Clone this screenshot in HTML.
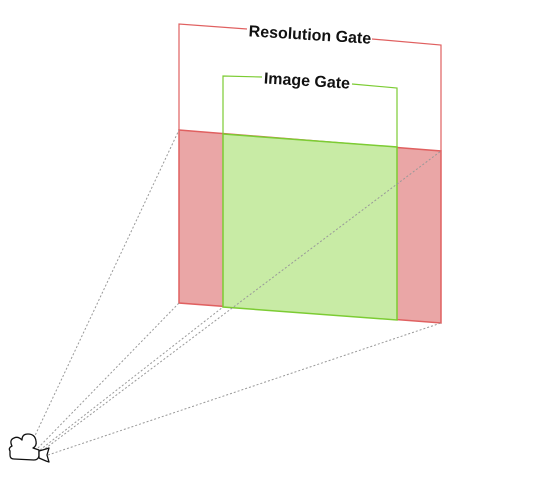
<!DOCTYPE html>
<html><head><meta charset="utf-8"><style>html,body{margin:0;padding:0;background:#fff}svg{display:block}</style></head>
<body>
<svg width="541" height="478" viewBox="0 0 541 478" xmlns="http://www.w3.org/2000/svg">
<polygon points="179,130 441,151 441,323 179,303" fill="#eaa6a6" stroke="#e06060" stroke-width="1.5"/>
<polygon points="223,134 397,147 397,320 223,307" fill="#c8eba5" stroke="#7ccc33" stroke-width="1.5"/>
<g stroke="#999" stroke-width="1" stroke-dasharray="2,2" fill="none">
<line x1="32" y1="442" x2="179" y2="130"/>
<line x1="38" y1="448" x2="179" y2="303"/>
<line x1="40" y1="450" x2="223" y2="307"/>
<line x1="48" y1="455" x2="441" y2="323"/>
<line x1="42" y1="451" x2="441" y2="151"/>
</g>
<polyline points="179,130 179,24 247,29" fill="none" stroke="#e06060" stroke-width="1.2"/>
<polyline points="372,39 441,45 441,151" fill="none" stroke="#e06060" stroke-width="1.2"/>
<polyline points="223,134 223,76 262,77" fill="none" stroke="#7ccc33" stroke-width="1.2"/>
<polyline points="352,84 397,88 397,147" fill="none" stroke="#7ccc33" stroke-width="1.2"/>
<text x="310" y="40" text-anchor="middle" transform="rotate(3.5 310 34)" font-family="Liberation Sans, sans-serif" font-weight="bold" font-size="16" fill="#111">Resolution Gate</text>
<text x="307" y="86" text-anchor="middle" transform="rotate(3.5 307 80)" font-family="Liberation Sans, sans-serif" font-weight="bold" font-size="16" fill="#111">Image Gate</text>
<g fill="#fff" stroke="#111" stroke-width="1.3" stroke-linejoin="round">
<path d="M12,446 Q9,440 14,438 Q18,436 22,440 Q22,434 28,434 Q35,434 36,441 Q37,446 33,448 L39,450 L39,456 Q38,460 34,460 L14,459 Q10,459 10,455 L10,451 Q8,448 12,446 Z"/>
<path d="M39,451 L46,449 L49,448 L47,455 L49,462 L46,461 L39,458 Z"/>
</g>
</svg>
</body></html>
